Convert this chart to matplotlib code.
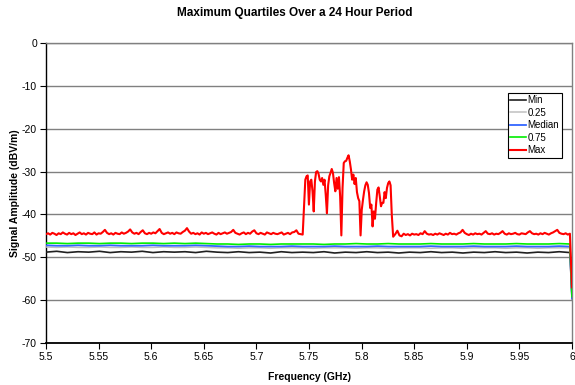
import numpy as np
import matplotlib
matplotlib.use("Agg")
import matplotlib.pyplot as plt
from matplotlib.ticker import MultipleLocator, FuncFormatter

plt.rcParams['font.family'] = ['Liberation Sans', 'DejaVu Sans']

# ---- data -------------------------------------------------------------
# Max trace, baseline left of the signal burst (5.500 .. 5.744 GHz, 2 MHz step)
max_left = [
    -44.6, -44.4, -44.7, -44.3, -44.5, -44.8, -44.4, -44.6, -44.2, -44.5,
    -44.7, -44.3, -44.6, -44.4, -44.8, -44.5, -44.2, -44.6, -44.4, -44.7,
    -44.3, -44.5, -44.6, -44.2, -44.7, -44.4, -44.5, -44.1, -43.6, -44.3,
    -44.6, -44.4, -44.7, -44.3, -44.5, -44.6, -44.2, -44.5, -44.3, -44.0,
    -43.5, -44.2, -44.5, -44.3, -44.6, -44.1, -43.7, -44.4, -44.6, -44.3,
    -44.5, -44.2, -44.4, -43.9, -43.4, -44.3, -44.6, -44.4, -44.2, -44.5,
    -44.3, -44.6, -44.2, -44.4, -44.5, -44.1, -43.8, -43.2, -44.0, -44.5,
    -44.3, -44.6, -44.4, -44.7, -44.2, -44.5, -44.3, -44.6, -44.4, -44.2,
    -44.5, -44.7, -44.3, -44.6, -44.4, -44.2, -44.5, -44.3, -44.1, -43.6,
    -44.3, -44.5, -44.7, -44.4, -44.2, -44.6, -44.3, -44.5, -44.0, -43.7,
    -44.4, -44.6, -44.3, -44.5, -44.7, -44.2, -44.4, -44.6, -44.3, -44.5,
    -44.6, -44.4, -44.2, -44.7, -44.5, -44.3, -44.6, -44.2, -44.1, -43.7,
    -44.5, -44.6, -44.7,
]
# Max trace across the signal burst (5.7465 .. 5.8287 GHz)
max_burst = [
    -31.9, -31.1, -30.9, -37.7, -32.3, -31.9, -34.6, -39.3, -32.3, -30.1,
    -29.9, -30.5, -31.9, -32.3, -31.5, -33.1, -31.9, -35.4, -39.7, -33.2,
    -31.1, -30.3, -29.4, -30.3, -32.7, -34.6, -31.5, -34.0, -31.3, -35.8,
    -44.9, -33.8, -28.0, -27.6, -27.5, -26.8, -26.2, -27.6, -29.5, -31.9,
    -30.7, -32.9, -31.5, -34.8, -36.2, -36.9, -44.9, -38.9, -36.6, -34.6,
    -33.2, -32.5, -33.1, -35.0, -38.5, -37.7, -42.8, -39.3, -41.0, -37.3,
    -34.2, -33.7, -35.8, -38.1, -37.3, -37.3, -34.8, -36.2, -33.8, -32.7,
    -32.3, -33.2, -40.1,
]
# Max trace right of the burst (5.830 .. 5.998 GHz, 2 MHz step, then 6.0 GHz)
max_right = [
    -45.2, -44.6, -43.8, -44.9, -45.1, -44.5, -44.8, -44.6, -44.9, -44.5,
    -44.7, -44.6, -44.8, -44.4, -44.6, -43.9, -44.5, -44.7, -44.6, -44.8,
    -44.5, -44.7, -44.4, -44.6, -44.8, -44.5, -44.7, -44.3, -44.6, -44.5,
    -44.7, -44.4, -44.2, -43.6, -44.3, -44.6, -44.8, -44.5, -44.7, -44.4,
    -44.6, -44.5, -44.7, -44.3, -43.9, -44.5, -44.6, -44.4, -44.7, -44.5,
    -44.6, -44.3, -43.9, -44.5, -44.7, -44.4, -44.6, -44.5, -44.3, -44.6,
    -44.7, -44.4, -44.5, -44.6, -44.2, -43.9, -44.4, -44.6, -44.5, -44.7,
    -44.4, -44.6, -44.3, -44.5, -44.7, -44.4, -44.2, -43.9, -43.6, -44.3,
    -44.5, -44.6, -44.4, -44.7, -44.5,
    -57.0,
]

# Lower quartile traces (5.5 .. 5.998 GHz in 50 steps, then 6.0 GHz)
q75_vals = [
    -46.7, -46.7, -46.8, -46.7, -46.7, -46.8, -46.7, -46.7, -46.8, -46.7,
    -46.7, -46.8, -46.7, -46.8, -46.7, -46.8, -46.9, -46.9, -47.0, -46.9,
    -46.9, -47.0, -46.9, -46.9, -46.9, -46.9, -47.0, -46.9, -46.9, -46.8,
    -46.9, -46.9, -46.8, -46.9, -46.9, -46.9, -46.8, -46.9, -46.9, -46.9,
    -46.8, -46.9, -46.9, -46.9, -46.8, -46.9, -46.9, -46.9, -46.8, -46.9,
    -59.2,
]
median_vals = [
    -47.2, -47.3, -47.3, -47.2, -47.3, -47.3, -47.2, -47.3, -47.3, -47.3,
    -47.2, -47.3, -47.3, -47.3, -47.2, -47.3, -47.4, -47.5, -47.5, -47.4,
    -47.5, -47.5, -47.5, -47.4, -47.5, -47.5, -47.5, -47.4, -47.5, -47.5,
    -47.5, -47.4, -47.5, -47.5, -47.5, -47.5, -47.4, -47.5, -47.5, -47.5,
    -47.4, -47.5, -47.5, -47.5, -47.4, -47.5, -47.5, -47.5, -47.4, -47.5,
    -59.6,
]
q25_vals = [
    -47.6, -47.7, -47.6, -47.7, -47.7, -47.6, -47.7, -47.7, -47.6, -47.7,
    -47.7, -47.6, -47.7, -47.7, -47.6, -47.7, -47.8, -47.8, -47.9, -47.8,
    -47.8, -47.9, -47.8, -47.8, -47.8, -47.9, -47.8, -47.8, -47.8, -47.9,
    -47.8, -47.8, -47.9, -47.8, -47.8, -47.8, -47.9, -47.8, -47.8, -47.9,
    -47.8, -47.8, -47.8, -47.9, -47.8, -47.8, -47.9, -47.8, -47.8, -47.8,
    -59.6,
]
min_vals = [
    -48.8, -48.6, -48.9, -48.7, -48.8, -48.6, -48.9, -48.7, -48.8, -48.6,
    -48.9, -48.7, -48.8, -48.7, -48.9, -48.6, -48.8, -48.9, -48.7, -48.9,
    -48.8, -49.0, -48.7, -48.9, -48.8, -48.9, -48.7, -49.0, -48.8, -48.9,
    -48.7, -48.9, -48.8, -49.0, -48.8, -48.9, -48.7, -48.9, -48.8, -49.0,
    -48.8, -48.9, -48.7, -48.9, -48.8, -49.0, -48.8, -48.9, -48.7, -48.9,
    -59.6,
]

# Frequency axes (GHz)
freq_left = 5.500 + 0.002 * np.arange(len(max_left))
freq_burst = np.linspace(5.7465, 5.8287, len(max_burst))
freq_right = np.append(5.830 + 0.002 * np.arange(len(max_right) - 1), 6.0)
freq_q = np.append(np.linspace(5.5, 5.998, len(q75_vals) - 1), 6.0)

freq_max = np.concatenate([freq_left, freq_burst, freq_right])
max_vals = np.concatenate([max_left, max_burst, max_right])

series_labels = ["Min", "0.25", "Median", "0.75", "Max"]
series_colors = ["#202020", "#c0c0c0", "#3366ff", "#00ee00", "#ff0000"]

# ---- figure -----------------------------------------------------------
fig = plt.figure(figsize=(5.75, 3.85), dpi=100)
ax = fig.add_axes([46 / 575, 1 - 343 / 385, 526 / 575, 300 / 385])

traces = [(freq_q, min_vals), (freq_q, q25_vals), (freq_q, median_vals),
          (freq_q, q75_vals), (freq_max, max_vals)]
widths = [1.2, 1.1, 1.3, 1.2, 1.5]
for (fx, fy), lab, col, lw in zip(traces, series_labels, series_colors, widths):
    ax.plot(fx, fy, color=col, lw=lw, label=lab, zorder=3)

ax.set_xlim(5.5, 6.0)
ax.set_ylim(-70, 0)
ax.xaxis.set_major_locator(MultipleLocator(0.05))
ax.yaxis.set_major_locator(MultipleLocator(10))
ax.xaxis.set_major_formatter(FuncFormatter(lambda v, p: f"{v:g}"))
ax.yaxis.set_major_formatter(FuncFormatter(lambda v, p: f"{v:g}"))

ax.grid(axis='y', color='#808080', lw=1.0, zorder=1)
ax.set_axisbelow(True)
for side in ('top', 'right'):
    ax.spines[side].set_color('#808080')
    ax.spines[side].set_linewidth(1.0)
ax.spines['left'].set_color('black')
ax.spines['left'].set_linewidth(1.0)
ax.spines['bottom'].set_color('black')
ax.spines['bottom'].set_linewidth(1.3)

ax.tick_params(axis='both', direction='out', length=4, width=0.8,
               labelsize=7.5, pad=2.5, colors='black')

fig.text(295 / 575, 1 - 13 / 385, "Maximum Quartiles Over a 24 Hour Period",
         ha='center', va='center', fontsize=8.5, fontweight='bold')
ax.set_xlabel("Frequency (GHz)", fontsize=7.5, fontweight='bold', labelpad=7)
ax.set_ylabel("Signal Amplitude (dBV/m)", fontsize=7.5, fontweight='bold',
              labelpad=1.5)

leg = ax.legend(loc='upper left', bbox_to_anchor=(508 / 575, 1 - 93 / 385),
                bbox_transform=fig.transFigure, borderaxespad=0, fontsize=7,
                frameon=True, fancybox=False, framealpha=1, edgecolor='black',
                handlelength=1.6, handletextpad=0.15, labelspacing=0.25,
                borderpad=0.25)
leg.get_frame().set_linewidth(0.8)
leg.set_zorder(5)

fig.savefig("out.png", dpi=100)
